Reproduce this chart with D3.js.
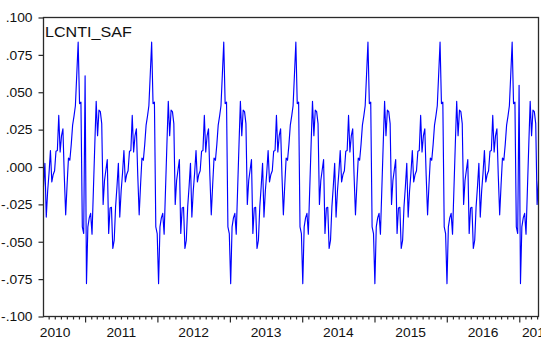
<!DOCTYPE html>
<html>
<head>
<meta charset="utf-8">
<script src="https://cdn.jsdelivr.net/npm/d3@7"></script>
<style>
  html, body { margin: 0; padding: 0; background: #fff; }
  svg { display: block; }
</style>
</head>
<body>
<svg id="chart" width="541" height="340"></svg>
<script>
// Weekly seasonal factors of LCNTI, one array per season (each season starts at the late-November peak).
const seriesName = "LCNTI_SAF";
const firstWeek = "2010-06-05";

const lead2010 = [-0.0130, 0.0025, -0.0335, -0.0160, -0.0040, 0.0110, -0.0100, -0.0050, -0.0025, 0.0105,
  0.0110, 0.0345, 0.0100, 0.0210, 0.0255, -0.0060, -0.0320, -0.0120, 0.0060, 0.0045,
  0.0150, 0.0280, 0.0340, 0.0410, 0.0620];

const season2010 = [0.0835, 0.0424, 0.0434, -0.0400, -0.0445, 0.0610, -0.0780, -0.0400, -0.0340, -0.0310,
  -0.0450, -0.0150, 0.0150, 0.0440, 0.0210, 0.0380, 0.0370, 0.0290, -0.0250, -0.0090,
  -0.0020, 0.0050, -0.0445, -0.0275, -0.0270, -0.0545, -0.0490, -0.0265, -0.0130, 0.0025,
  -0.0335, -0.0160, -0.0040, 0.0110, -0.0100, -0.0050, -0.0025, 0.0105, 0.0110, 0.0345,
  0.0100, 0.0210, 0.0255, -0.0060, -0.0320, -0.0120, 0.0060, 0.0045, 0.0150, 0.0280,
  0.0340, 0.0410, 0.0620];

const season2011 = [0.0835, 0.0424, 0.0434, -0.0400, -0.0445, -0.0780, -0.0400, -0.0340, -0.0310, -0.0450,
  -0.0150, 0.0150, 0.0440, 0.0210, 0.0380, 0.0370, 0.0290, -0.0250, -0.0090, -0.0020,
  0.0050, -0.0445, -0.0275, -0.0270, -0.0545, -0.0490, -0.0265, -0.0130, 0.0025, -0.0335,
  -0.0160, -0.0040, 0.0110, -0.0100, -0.0050, -0.0025, 0.0105, 0.0110, 0.0345, 0.0100,
  0.0210, 0.0255, -0.0060, -0.0320, -0.0120, 0.0060, 0.0045, 0.0150, 0.0280, 0.0340,
  0.0410, 0.0620];

const season2012 = [0.0835, 0.0424, 0.0434, -0.0400, -0.0445, -0.0780, -0.0400, -0.0340, -0.0310, -0.0450,
  -0.0150, 0.0150, 0.0440, 0.0210, 0.0380, 0.0370, 0.0290, -0.0250, -0.0090, -0.0020,
  0.0050, -0.0445, -0.0275, -0.0270, -0.0545, -0.0490, -0.0265, -0.0130, 0.0025, -0.0335,
  -0.0160, -0.0040, 0.0110, -0.0100, -0.0050, -0.0025, 0.0105, 0.0110, 0.0345, 0.0100,
  0.0210, 0.0255, -0.0060, -0.0320, -0.0120, 0.0060, 0.0045, 0.0150, 0.0280, 0.0340,
  0.0410, 0.0620];

const season2013 = [0.0835, 0.0424, 0.0434, -0.0400, -0.0445, -0.0780, -0.0400, -0.0340, -0.0310, -0.0450,
  -0.0150, 0.0150, 0.0440, 0.0210, 0.0380, 0.0370, 0.0290, -0.0250, -0.0090, -0.0020,
  0.0050, -0.0445, -0.0275, -0.0270, -0.0545, -0.0490, -0.0265, -0.0130, 0.0025, -0.0335,
  -0.0160, -0.0040, 0.0110, -0.0100, -0.0050, -0.0025, 0.0105, 0.0110, 0.0345, 0.0100,
  0.0210, 0.0255, -0.0060, -0.0320, -0.0120, 0.0060, 0.0045, 0.0150, 0.0280, 0.0340,
  0.0410, 0.0620];

const season2014 = [0.0835, 0.0424, 0.0434, -0.0400, -0.0445, -0.0780, -0.0400, -0.0340, -0.0310, -0.0450,
  -0.0150, 0.0150, 0.0440, 0.0210, 0.0380, 0.0370, 0.0290, -0.0250, -0.0090, -0.0020,
  0.0050, -0.0445, -0.0275, -0.0270, -0.0545, -0.0490, -0.0265, -0.0130, 0.0025, -0.0335,
  -0.0160, -0.0040, 0.0110, -0.0100, -0.0050, -0.0025, 0.0105, 0.0110, 0.0345, 0.0100,
  0.0210, 0.0255, -0.0060, -0.0320, -0.0120, 0.0060, 0.0045, 0.0150, 0.0280, 0.0340,
  0.0410, 0.0620];

const season2015 = [0.0835, 0.0424, 0.0434, -0.0400, -0.0445, -0.0780, -0.0400, -0.0340, -0.0310, -0.0450,
  -0.0150, 0.0150, 0.0440, 0.0210, 0.0380, 0.0370, 0.0290, -0.0250, -0.0090, -0.0020,
  0.0050, -0.0445, -0.0275, -0.0270, -0.0545, -0.0490, -0.0265, -0.0130, 0.0025, -0.0335,
  -0.0160, -0.0040, 0.0110, -0.0100, -0.0050, -0.0025, 0.0105, 0.0110, 0.0345, 0.0100,
  0.0210, 0.0255, -0.0060, -0.0320, -0.0120, 0.0060, 0.0045, 0.0150, 0.0280, 0.0340,
  0.0410, 0.0620];

const season2016 = [0.0835, 0.0424, 0.0434, -0.0400, -0.0445, 0.0546, -0.0780, -0.0400, -0.0340, -0.0310,
  -0.0450, -0.0150, 0.0150, 0.0440, 0.0210, 0.0380, 0.0370, 0.0290, -0.0250, -0.0090];

const yTickValues = [0.100, 0.075, 0.050, 0.025, 0.000, -0.025, -0.050, -0.075, -0.100];
const yTickLabels = [".100", ".075", ".050", ".025", ".000", "-.025", "-.050", "-.075", "-.100"];
const yearLabels = ["2010", "2011", "2012", "2013", "2014", "2015", "2016", "2017"];

// ---- assemble weekly observations ----
const values = [].concat(lead2010, season2010, season2011, season2012,
                         season2013, season2014, season2015, season2016);
const start = d3.utcParse("%Y-%m-%d")(firstWeek);
const data = values.map((v, i) => ({ date: d3.utcDay.offset(start, 7 * i), value: v }));

// ---- layout ----
const frame = { left: 43.5, right: 538.5, top: 17.5, bottom: 316.5 };
const axisColor = "#2a2a2a";
const fontFamily = "'Liberation Sans', Arial, sans-serif";
const stretch = "scale(1.15,1)";

const svg = d3.select("#chart");

const x = d3.scaleUtc()
  .domain([data[0].date, data[data.length - 1].date])
  .range([frame.left, frame.right]);

const y = d3.scaleLinear()
  .domain([-0.1, 0.1])
  .range([frame.bottom, frame.top]);

// series line
svg.append("path")
  .datum(data)
  .attr("fill", "none")
  .attr("stroke", "#0000ff")
  .attr("stroke-width", 1.15)
  .attr("stroke-linejoin", "round")
  .attr("d", d3.line().x(d => x(d.date)).y(d => y(d.value)));

// frame
svg.append("rect")
  .attr("x", frame.left)
  .attr("y", frame.top)
  .attr("width", frame.right - frame.left)
  .attr("height", frame.bottom - frame.top)
  .attr("fill", "none")
  .attr("stroke", axisColor)
  .attr("stroke-width", 1.3);

// y axis
const yAxis = svg.append("g")
  .attr("transform", `translate(${frame.left},0)`)
  .call(d3.axisLeft(y)
    .tickValues(yTickValues)
    .tickFormat((d, i) => yTickLabels[i])
    .tickSize(5)
    .tickSizeOuter(0));
yAxis.select(".domain").remove();
yAxis.selectAll(".tick line").attr("stroke", axisColor).attr("stroke-width", 1.2);
yAxis.selectAll(".tick text")
  .attr("x", null)
  .attr("dy", null)
  .attr("transform", `translate(-11,4.3) ${stretch}`)
  .attr("text-anchor", "end")
  .attr("fill", "#111")
  .style("font-family", fontFamily)
  .style("font-size", "12px");

// x axis: monthly minor ticks, yearly major ticks
const [d0, d1] = x.domain();
const monthTicks = d3.utcMonth.range(d3.utcMonth.ceil(d0), d1).filter(d => d.getUTCMonth() !== 0);
const yearTicks = d3.utcYear.range(d3.utcYear.ceil(d0), d1);

const xMinor = svg.append("g")
  .attr("transform", `translate(0,${frame.bottom})`)
  .call(d3.axisBottom(x).tickValues(monthTicks).tickSize(3).tickFormat(""));
xMinor.select(".domain").remove();
xMinor.selectAll(".tick line").attr("stroke", axisColor).attr("stroke-width", 1.2);

const xMajor = svg.append("g")
  .attr("transform", `translate(0,${frame.bottom})`)
  .call(d3.axisBottom(x).tickValues(yearTicks).tickSize(6).tickFormat(""));
xMajor.select(".domain").remove();
xMajor.selectAll(".tick line").attr("stroke", axisColor).attr("stroke-width", 1.2);

// year labels: centred in each full year, pushed toward the tick for partial years
const firstYear = +yearLabels[0];
yearLabels.forEach((label, i) => {
  const a = Date.UTC(firstYear + i, 0, 1);
  const b = Date.UTC(firstYear + i + 1, 0, 1);
  let cx;
  if (a < d0) cx = x(new Date(b)) - 30;
  else if (b > d1) cx = x(new Date(a)) + 18;
  else cx = (x(new Date(a)) + x(new Date(b))) / 2;
  svg.append("text")
    .attr("transform", `translate(${cx},337) ${stretch}`)
    .attr("text-anchor", "middle")
    .attr("fill", "#111")
    .style("font-family", fontFamily)
    .style("font-size", "12px")
    .text(label);
});

// series name
svg.append("text")
  .attr("transform", `translate(45,36.7) ${stretch}`)
  .attr("fill", "#111")
  .style("font-family", fontFamily)
  .style("font-size", "14px")
  .text(seriesName);
</script>
</body>
</html>
